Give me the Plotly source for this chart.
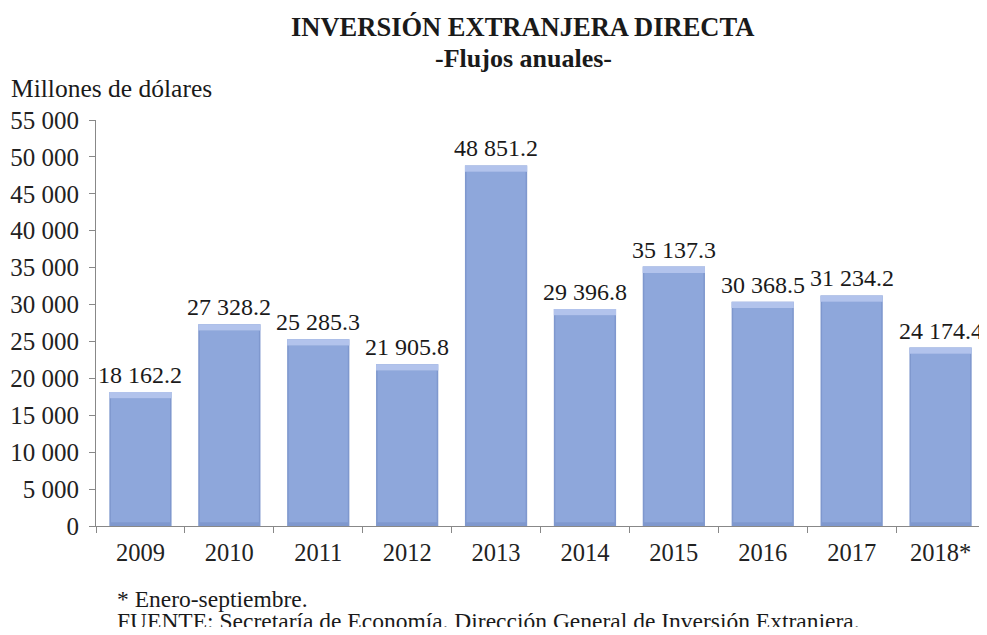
import plotly.graph_objects as go

years = ["2009", "2010", "2011", "2012", "2013", "2014", "2015", "2016", "2017", "2018*"]
values = [18162.2, 27328.2, 25285.3, 21905.8, 48851.2, 29396.8, 35137.3, 30368.5, 31234.2, 24174.4]
y_ticks = list(range(0, 55001, 5000))

FONT = "Liberation Serif"
BEVEL_TOP = 850   # styling: bevel depths in data units
BEVEL_BOT = 500

# page has an 8px body margin -> work in figure coordinates; keep page free of scrollbars
W, H = 979, 619
OFF = 8
pl, pr, pt, pb = 96 - OFF, 2, 120 - OFF, H - (526 - OFF)
pw, ph = W - pl - pr, H - pt - pb

fig = go.Figure()
# outer (edge) bar
fig.add_trace(go.Bar(
    x=years, y=values, width=0.7,
    marker=dict(color="#7F98CE", line=dict(width=0)),
    hoverinfo="skip",
))
# inner face
fig.add_trace(go.Bar(
    x=years, y=[v - BEVEL_TOP - BEVEL_BOT for v in values], base=[BEVEL_BOT] * len(values), width=0.665,
    marker=dict(color="#8EA7DB", line=dict(width=0)),
    hoverinfo="skip",
))
# light top band
fig.add_trace(go.Bar(
    x=years, y=[BEVEL_TOP] * len(values), base=[v - BEVEL_TOP for v in values], width=0.7,
    marker=dict(color="#B2C3EC", line=dict(width=0)),
    hoverinfo="skip",
))

def ann(text, px, py, size, anchor="center"):
    return dict(text=text, x=(px - OFF - pl) / pw, y=(H - (py - OFF) - pb) / ph,
                xref="paper", yref="paper", xanchor=anchor, yanchor="middle",
                showarrow=False, font=dict(family=FONT, size=size, color="#1a1a1a"))

annotations = [
    ann("<b>INVERSIÓN EXTRANJERA DIRECTA</b>", 522, 27, 26.5),
    ann("<b>-Flujos anuales-</b>", 523, 58, 26),
    ann("Millones de dólares", 9, 88, 25.5, "left"),
    ann("* Enero-septiembre.", 115, 599, 23.5, "left"),
    ann("FUENTE: Secretaría de Economía. Dirección General de Inversión Extranjera.", 115, 621, 23.5, "left"),
]
# value labels placed on the data axes (category index on the x axis)
for i, v in enumerate(values):
    annotations.append(dict(
        text=f"{v:,.1f}".replace(",", " "), x=i, y=v, xref="x", yref="y",
        xanchor="center", yanchor="bottom", yshift=2, showarrow=False,
        font=dict(family=FONT, size=24, color="#1a1a1a"),
    ))

fig.update_layout(
    width=W, height=H,
    barmode="overlay",
    showlegend=False,
    separators=". ",
    plot_bgcolor="white", paper_bgcolor="white",
    margin=dict(l=pl, r=pr, t=pt, b=pb),
    font=dict(family=FONT, size=25, color="#222"),
    xaxis=dict(
        type="category", categoryorder="array", categoryarray=years,
        range=[-0.5, len(years) - 0.5],
        showline=True, linecolor="#888", linewidth=1,
        ticks="outside", ticklen=6, tickcolor="#888",
        tickson="boundaries", ticklabelstandoff=5,
        tickfont=dict(family=FONT, size=24.5, color="#222"),
        showgrid=False,
    ),
    yaxis=dict(
        range=[0, 55000], tickvals=y_ticks, tickformat=",d",
        showline=True, linecolor="#888", linewidth=1,
        ticks="outside", ticklen=6, tickcolor="#888",
        ticklabelstandoff=5,
        tickfont=dict(family=FONT, size=25, color="#222"),
        showgrid=False, zeroline=False,
    ),
    annotations=annotations,
)

fig.write_html("out.html")
